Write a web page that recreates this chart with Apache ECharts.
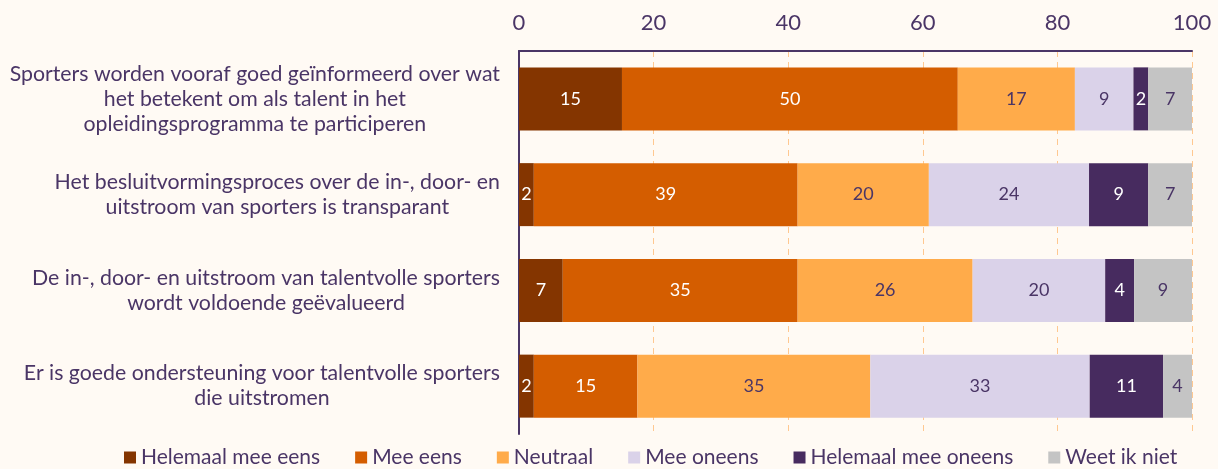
<!DOCTYPE html>
<html lang="nl">
<head>
    <meta charset="UTF-8">
    <title>Talentprogramma</title>
    <script src="https://cdn.jsdelivr.net/npm/echarts@6/dist/echarts.min.js"></script>
    <style>
        html, body { margin: 0; padding: 0; background: #fffaf4; }
        #chart { width: 1218px; height: 469px; }
    </style>
</head>
<body>
<div id="chart"></div>
<script>
    // stellingen (van boven naar beneden)
    var categories = [
        'Sporters worden vooraf goed geïnformeerd over wat\nhet betekent om als talent in het\nopleidingsprogramma te participeren',
        'Het besluitvormingsproces over de in-, door- en\nuitstroom van sporters is transparant',
        'De in-, door- en uitstroom van talentvolle sporters\nwordt voldoende geëvalueerd',
        'Er is goede ondersteuning voor talentvolle sporters\ndie uitstromen'
    ];
    var seriesNames = ['Helemaal mee eens', 'Mee eens', 'Neutraal', 'Mee oneens', 'Helemaal mee oneens', 'Weet ik niet'];
    var helemaalMeeEens = [15.3, 2.2, 6.5, 2.2];
    var meeEens = [49.9, 39.2, 34.9, 15.4];
    var neutraal = [17.4, 19.5, 26.0, 34.6];
    var meeOneens = [8.7, 23.8, 19.7, 32.6];
    var helemaalMeeOneens = [2.2, 8.8, 4.3, 10.9];
    var weetIkNiet = [6.5, 6.5, 8.6, 4.3];
    var xTicks = [0, 20, 40, 60, 80, 100];

    var colors = ['#843500', '#d45d00', '#ffab4a', '#dad2e9', '#472b5f', '#c4c4c4'];
    var labelColors = ['#ffffff', '#ffffff', '#4a3566', '#4a3566', '#ffffff', '#4a3566'];
    var allValues = [helemaalMeeEens, meeEens, neutraal, meeOneens, helemaalMeeOneens, weetIkNiet];
    var textColor = '#4a3566';

    var chart = echarts.init(document.getElementById('chart'));

    var series = [];
    for (var i = 0; i < seriesNames.length; i++) {
        series.push({
            name: seriesNames[i],
            type: 'bar',
            stack: 'totaal',
            barWidth: 63,
            data: allValues[i],
            itemStyle: { color: colors[i] },
            label: {
                show: true,
                position: 'inside',
                color: labelColors[i],
                fontFamily: 'Lato',
                fontSize: 18,
                formatter: function (p) { return Math.round(p.value); }
            }
        });
    }

    var option = {
        backgroundColor: '#fffaf4',
        animation: false,
        color: colors,
        grid: { left: 519, right: 26, top: 51, bottom: 35 },
        legend: {
            data: seriesNames,
            bottom: -4,
            left: 119,
            itemWidth: 12,
            itemHeight: 12,
            itemGap: 35,
            icon: 'rect',
            textStyle: { color: textColor, fontFamily: 'Lato', fontSize: 21 }
        },
        xAxis: {
            type: 'value',
            position: 'top',
            min: xTicks[0],
            max: xTicks[xTicks.length - 1],
            interval: 20,
            axisLine: { show: true, lineStyle: { color: textColor, width: 2 } },
            axisTick: { show: false },
            axisLabel: { color: textColor, fontFamily: 'Lato', fontSize: 22, margin: 17 },
            splitLine: { show: true, lineStyle: { color: '#ffc891', type: [6, 5], width: 1 } }
        },
        yAxis: {
            type: 'category',
            inverse: true,
            data: categories,
            axisLine: { show: true, lineStyle: { color: textColor, width: 2 } },
            axisTick: { show: false },
            axisLabel: {
                margin: 19,
                align: 'right',
                formatter: function (v) { return '{c|' + v.split('\n').join('}\n{c|') + '}'; },
                rich: {
                    c: { align: 'center', color: textColor, fontFamily: 'Lato', fontSize: 21.3, lineHeight: 25 }
                }
            }
        },
        series: series
    };

    chart.setOption(option);
</script>
</body>
</html>
